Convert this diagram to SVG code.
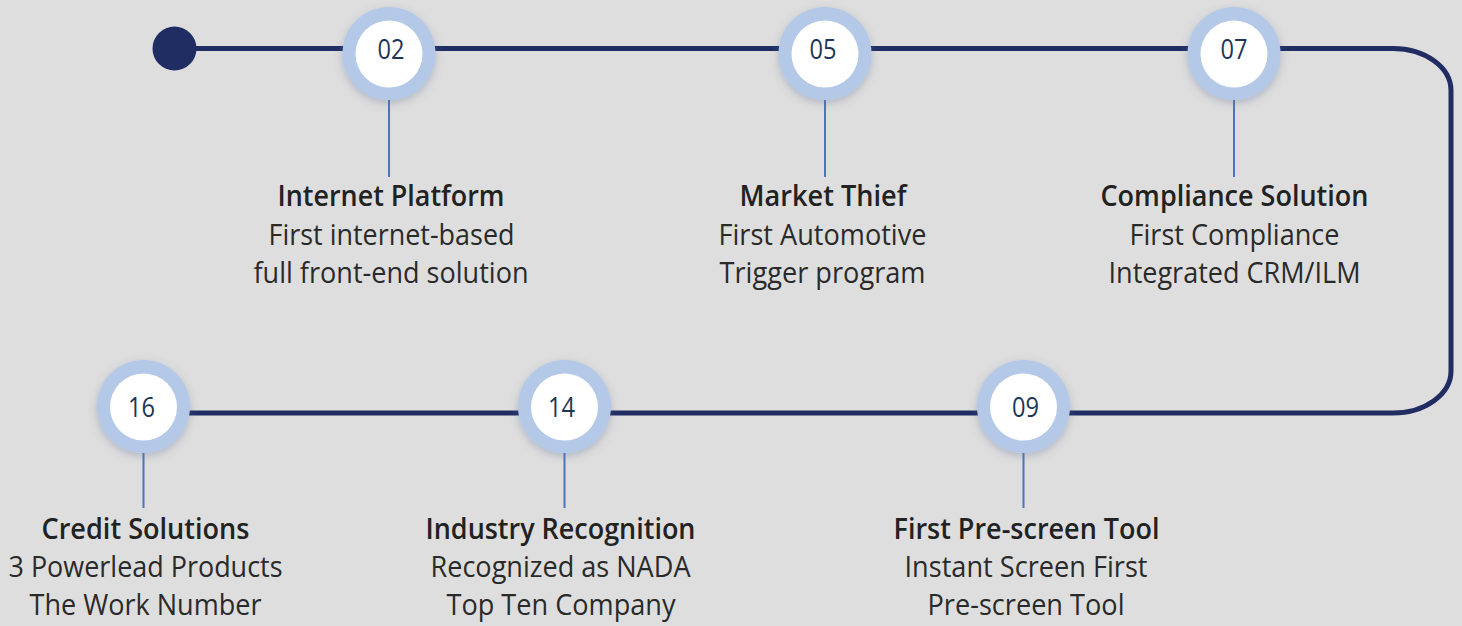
<svg xmlns="http://www.w3.org/2000/svg" width="1462" height="626" viewBox="0 0 1462 626">
<defs>
<filter id="glow" x="-40%" y="-40%" width="180%" height="180%">
<feGaussianBlur in="SourceAlpha" stdDeviation="4"/>
<feOffset dx="0" dy="3" result="b"/>
<feFlood flood-color="#5a6a90" flood-opacity="0.35"/>
<feComposite in2="b" operator="in"/>
<feMerge><feMergeNode/><feMergeNode in="SourceGraphic"/></feMerge>
</filter>
</defs>
<style>
.ring{fill:#b4c9e7;filter:url(#glow)}
.core{fill:#ffffff}
.num{font-family:"Open Sans","Liberation Sans",sans-serif;font-size:27px;fill:#1c3558;text-anchor:middle}
.stem{stroke:#4d74c2;stroke-width:2;fill:none}
.t{font-family:"Open Sans","Liberation Sans",sans-serif;font-size:29px;font-weight:600;fill:#222222;text-anchor:middle}
.d{font-family:"Open Sans","Liberation Sans",sans-serif;font-size:29px;font-weight:400;fill:#2a2a2a;text-anchor:middle}
.path{stroke:#1f2d63;stroke-width:5;fill:none}
</style>
<rect width="1462" height="626" fill="#dedede"/>
<g id="connectors">
<path class="path" d="M174,48.5 H1393 A58,42 0 0 1 1451,90.5 V371 A58,42 0 0 1 1393,413 H143.5"/>
<line class="stem" x1="389" y1="99" x2="389" y2="177"/>
<line class="stem" x1="825" y1="99" x2="825" y2="177"/>
<line class="stem" x1="1234" y1="99" x2="1234" y2="177"/>
<line class="stem" x1="143.5" y1="453" x2="143.5" y2="508"/>
<line class="stem" x1="564.5" y1="453" x2="564.5" y2="508"/>
<line class="stem" x1="1023.5" y1="453" x2="1023.5" y2="508"/>
</g>
<g id="start"><circle cx="174.5" cy="48.5" r="22" fill="#1f2d63"/></g>
<g id="n02">
<circle class="ring" cx="389" cy="53.5" r="46.5"/><circle class="core" cx="389" cy="54" r="33.5"/>
<text class="num" x="391" y="59" textLength="27" lengthAdjust="spacingAndGlyphs">02</text>
<text class="t" x="391" y="206" textLength="227" lengthAdjust="spacingAndGlyphs">Internet Platform</text>
<text class="d" x="391.5" y="244.5" textLength="246" lengthAdjust="spacingAndGlyphs">First internet-based</text>
<text class="d" x="391" y="283" textLength="275" lengthAdjust="spacingAndGlyphs">full front-end solution</text>
</g>
<g id="n05">
<circle class="ring" cx="825" cy="53.5" r="46.5"/><circle class="core" cx="825" cy="54" r="33.5"/>
<text class="num" x="823" y="59" textLength="27" lengthAdjust="spacingAndGlyphs">05</text>
<text class="t" x="823" y="206" textLength="167" lengthAdjust="spacingAndGlyphs">Market Thief</text>
<text class="d" x="822.5" y="244.5" textLength="208" lengthAdjust="spacingAndGlyphs">First Automotive</text>
<text class="d" x="822.5" y="283" textLength="206" lengthAdjust="spacingAndGlyphs">Trigger program</text>
</g>
<g id="n07">
<circle class="ring" cx="1234" cy="53.5" r="46.5"/><circle class="core" cx="1234" cy="54" r="33.5"/>
<text class="num" x="1234" y="59" textLength="27" lengthAdjust="spacingAndGlyphs">07</text>
<text class="t" x="1234.5" y="206" textLength="268" lengthAdjust="spacingAndGlyphs">Compliance Solution</text>
<text class="d" x="1234.5" y="244.5" textLength="210" lengthAdjust="spacingAndGlyphs">First Compliance</text>
<text class="d" x="1234.5" y="283" textLength="252" lengthAdjust="spacingAndGlyphs">Integrated CRM/ILM</text>
</g>
<g id="n09">
<circle class="ring" cx="1023.5" cy="406.5" r="46.5"/><circle class="core" cx="1023.5" cy="407" r="33.5"/>
<text class="num" x="1025.5" y="417" textLength="27" lengthAdjust="spacingAndGlyphs">09</text>
<text class="t" x="1026.5" y="539" textLength="266" lengthAdjust="spacingAndGlyphs">First Pre-screen Tool</text>
<text class="d" x="1026" y="577" textLength="243" lengthAdjust="spacingAndGlyphs">Instant Screen First</text>
<text class="d" x="1026" y="615" textLength="197" lengthAdjust="spacingAndGlyphs">Pre-screen Tool</text>
</g>
<g id="n14">
<circle class="ring" cx="564.5" cy="406.5" r="46.5"/><circle class="core" cx="564.5" cy="407" r="33.5"/>
<text class="num" x="561.5" y="417" textLength="27" lengthAdjust="spacingAndGlyphs">14</text>
<text class="t" x="560.5" y="539" textLength="270" lengthAdjust="spacingAndGlyphs">Industry Recognition</text>
<text class="d" x="560.5" y="577" textLength="260" lengthAdjust="spacingAndGlyphs">Recognized as NADA</text>
<text class="d" x="561" y="615" textLength="229" lengthAdjust="spacingAndGlyphs">Top Ten Company</text>
</g>
<g id="n16">
<circle class="ring" cx="143.5" cy="406.5" r="46.5"/><circle class="core" cx="143.5" cy="407" r="33.5"/>
<text class="num" x="141.5" y="417" textLength="27" lengthAdjust="spacingAndGlyphs">16</text>
<text class="t" x="145.5" y="539" textLength="208" lengthAdjust="spacingAndGlyphs">Credit Solutions</text>
<text class="d" x="145.5" y="577" textLength="274" lengthAdjust="spacingAndGlyphs">3 Powerlead Products</text>
<text class="d" x="145.5" y="615" textLength="232" lengthAdjust="spacingAndGlyphs">The Work Number</text>
</g>
</svg>
